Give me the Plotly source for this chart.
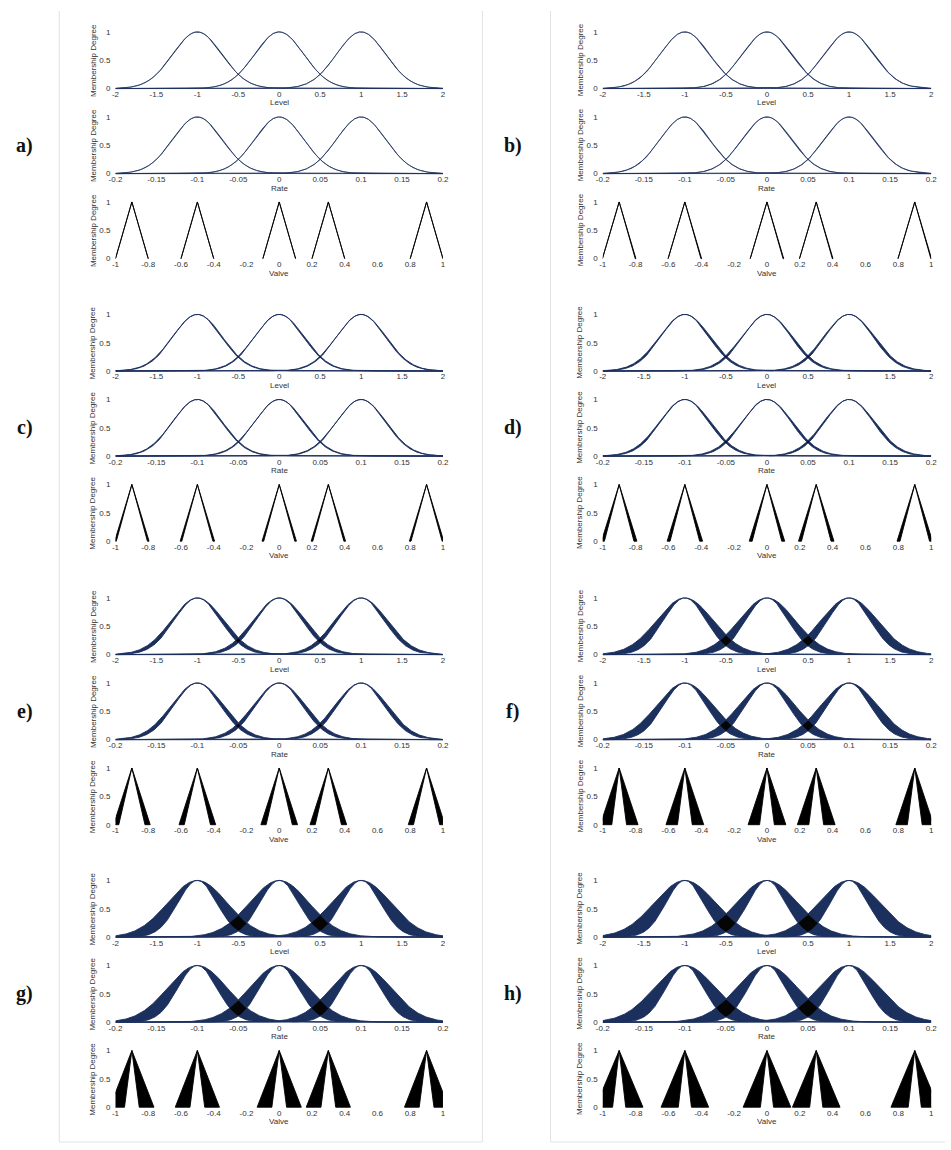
import numpy as np
import plotly.graph_objects as go

# ---------------- data ----------------
panel_labels = ["a)", "b)", "c)", "d)", "e)", "f)", "g)", "h)"]
row_names = ["Level", "Rate", "Valve"]

level_centers = [-1.0, 0.0, 1.0]
level_sigma = 0.30
rate_centers = [-0.1, 0.0, 0.1]
rate_sigma = 0.030
valve_centers = [-0.9, -0.5, 0.0, 0.3, 0.9]

# relative half-spread of the Gaussian sigma (footprint of uncertainty) per panel
gauss_spread = [0.0, 0.005, 0.015, 0.03, 0.06, 0.14, 0.21, 0.24]
# lower / upper half-widths of the triangular valve sets per panel
valve_lower_hw = [0.100, 0.098, 0.095, 0.090, 0.080, 0.045, 0.045, 0.040]
valve_upper_hw = [0.100, 0.102, 0.105, 0.108, 0.112, 0.115, 0.135, 0.145]

level_ticks = [-2, -1.5, -1, -0.5, 0, 0.5, 1, 1.5, 2]
level_ticktext = ["-2", "-1.5", "-1", "-0.5", "0", "0.5", "1", "1.5", "2"]
rate_ticks = [-0.2, -0.15, -0.1, -0.05, 0, 0.05, 0.1, 0.15, 0.2]
rate_ticktext = ["-0.2", "-0.15", "-0.1", "-0.05", "0", "0.05", "0.1", "0.15", "0.2"]
valve_ticks = [-1, -0.8, -0.6, -0.4, -0.2, 0, 0.2, 0.4, 0.6, 0.8, 1]
valve_ticktext = ["-1", "-0.8", "-0.6", "-0.4", "-0.2", "0", "0.2", "0.4", "0.6", "0.8", "1"]
y_ticks = [0, 0.5, 1]
y_ticktext = ["0", "0.5", "1"]

# ---------------- layout geometry (pixels) ----------------
W, H = 951, 1150
NAVY = "#1c305e"
col_x0 = [110, 604]
col_x1 = [442, 937]
panel_top = [29, 313, 598, 882]
row_off = [0, 85.5, 171]
row_h = 57
label_x = [18, 513]
ypad = 0.025
FONT = "Liberation Sans, Arial"

fig = go.Figure()
layout = {}
annotations = []

ranges = [(-2, 2), (-0.2, 0.2), (-1, 1)]
ticks = [(level_ticks, level_ticktext), (rate_ticks, rate_ticktext), (valve_ticks, valve_ticktext)]


def gauss(x, c, s):
    return np.exp(-(x - c) ** 2 / (2 * s ** 2))


for p in range(8):
    col = p % 2
    prow = p // 2
    for r in range(3):
        k = p * 3 + r + 1
        xa = "x" if k == 1 else f"x{k}"
        ya = "y" if k == 1 else f"y{k}"
        t = panel_top[prow] + row_off[r]
        b = t + row_h
        top = t - ypad * row_h
        bot = b + ypad * row_h
        xd = [col_x0[col] / W, col_x1[col] / W]
        yd = [1 - bot / H, 1 - top / H]
        lo_r, hi_r = ranges[r]
        tv, tt = ticks[r]
        layout["xaxis" if k == 1 else f"xaxis{k}"] = dict(
            domain=xd, range=[lo_r, hi_r], anchor=ya, showline=False, showgrid=False,
            zeroline=False, ticks="", tickvals=tv, ticktext=tt, ticklabelstandoff=-2,
            tickfont=dict(family=FONT, size=8, color="#333"),
            fixedrange=True)
        layout["yaxis" if k == 1 else f"yaxis{k}"] = dict(
            domain=yd, range=[-ypad, 1 + ypad], anchor=xa, showline=False, showgrid=False,
            zeroline=False, ticks="", tickvals=y_ticks, ticktext=y_ticktext,
            ticklabelstandoff=4,
            tickfont=dict(family=FONT, size=8, color="#333"),
            fixedrange=True)

        if r < 2:
            centers = level_centers if r == 0 else rate_centers
            sig = level_sigma if r == 0 else rate_sigma
            sp = gauss_spread[p]
            x = np.linspace(lo_r, hi_r, 1201)
            bands = []
            lw = 0.7 if sp < 0.01 else 0.9
            for c in centers:
                yl = gauss(x, c, sig * (1 - sp))
                yu = gauss(x, c, sig * (1 + sp))
                bands.append((yl, yu))
                fig.add_trace(go.Scatter(
                    x=np.concatenate([x, x[::-1]]), y=np.concatenate([yu, yl[::-1]]),
                    fill="toself", fillcolor=NAVY, mode="lines",
                    line=dict(color=NAVY, width=lw), hoverinfo="skip",
                    showlegend=False, xaxis=xa, yaxis=ya))
            for i in range(len(bands) - 1):
                l1, u1 = bands[i]
                l2, u2 = bands[i + 1]
                lo = np.maximum(l1, l2)
                hi = np.minimum(u1, u2)
                m = np.where(hi - lo > 1e-4)[0]
                if len(m) == 0:
                    continue
                i0, i1 = m[0], m[-1] + 1
                xs = x[i0:i1]
                lo_s = lo[i0:i1]
                hi_s = np.maximum(hi[i0:i1], lo_s)
                fig.add_trace(go.Scatter(
                    x=np.concatenate([xs, xs[::-1]]), y=np.concatenate([hi_s, lo_s[::-1]]),
                    fill="toself", fillcolor="#050505", mode="lines",
                    line=dict(color="#050505", width=0), hoverinfo="skip",
                    showlegend=False, xaxis=xa, yaxis=ya))
        else:
            wl = valve_lower_hw[p]
            wu = valve_upper_hw[p]
            for c in valve_centers:
                px = [c - wu, c, c + wu, c + wl, c, c - wl, c - wu]
                py = [0, 1, 0, 0, 1, 0, 0]
                fig.add_trace(go.Scatter(
                    x=px, y=py, fill="toself", fillcolor="#000000", mode="lines",
                    line=dict(color="#000000", width=0.9), hoverinfo="skip",
                    showlegend=False, xaxis=xa, yaxis=ya))

        # axis titles
        annotations.append(dict(
            x=(col_x0[col] - 23) / W, y=1 - (t + row_h / 2) / H, xref="paper", yref="paper",
            text="Membership Degree", textangle=-90, showarrow=False,
            font=dict(family=FONT, size=8, color="#333"),
            xanchor="center", yanchor="middle"))
        annotations.append(dict(
            x=(col_x0[col] + col_x1[col]) / 2 / W, y=1 - (b + 14.5) / H, xref="paper", yref="paper",
            text=row_names[r], showarrow=False,
            font=dict(family=FONT, size=8, color="#333"),
            xanchor="center", yanchor="middle"))

    # panel label
    annotations.append(dict(
        x=label_x[col] / W, y=1 - (panel_top[prow] + row_off[1] + row_h / 2) / H,
        xref="paper", yref="paper", text="<b>" + panel_labels[p] + "</b>", showarrow=False,
        font=dict(family="Liberation Serif, Times New Roman", size=20, color="#111"),
        xanchor="center", yanchor="middle"))

shapes = []
border = "#e2e2e2"
for xp in [53, 482, 551]:
    shapes.append(dict(type="line", xref="paper", yref="paper",
                       x0=xp / W, x1=xp / W, y0=1 - 8 / H, y1=1 - 1145 / H,
                       line=dict(color=border, width=1)))
shapes.append(dict(type="line", xref="paper", yref="paper", x0=53 / W, x1=482 / W,
                   y0=1 - 1145 / H, y1=1 - 1145 / H, line=dict(color=border, width=1)))
shapes.append(dict(type="line", xref="paper", yref="paper", x0=551 / W, x1=1,
                   y0=1 - 1145 / H, y1=1 - 1145 / H, line=dict(color=border, width=1)))

fig.update_layout(
    width=W, height=H, margin=dict(l=0, r=0, t=0, b=0),
    paper_bgcolor="white", plot_bgcolor="white",
    showlegend=False, annotations=annotations, shapes=shapes, **layout)

fig.write_html("out.html", config={"displayModeBar": False},
               post_script="document.body.style.margin='0px';")
